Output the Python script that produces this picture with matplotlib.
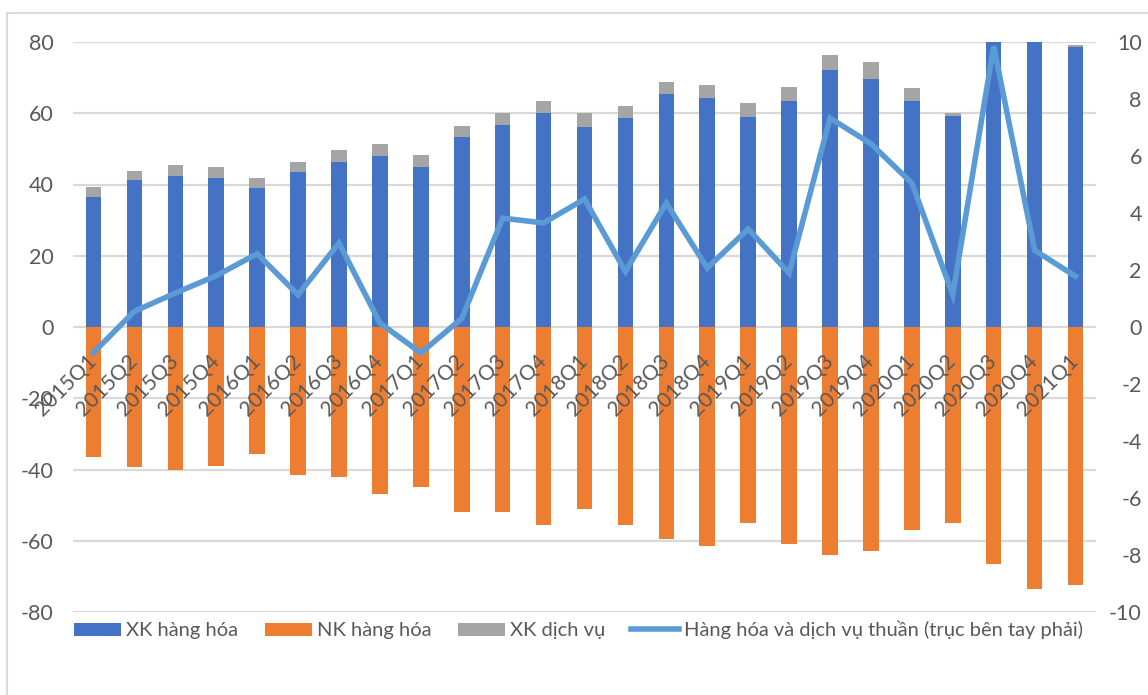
import matplotlib.pyplot as plt
from matplotlib.lines import Line2D
import numpy as np

plt.rcParams['font.family'] = ['Lato', 'Open Sans', 'DejaVu Sans']
plt.rcParams['axes.unicode_minus'] = False

quarters = ['2015Q1', '2015Q2', '2015Q3', '2015Q4', '2016Q1', '2016Q2', '2016Q3', '2016Q4',
            '2017Q1', '2017Q2', '2017Q3', '2017Q4', '2018Q1', '2018Q2', '2018Q3', '2018Q4',
            '2019Q1', '2019Q2', '2019Q3', '2019Q4', '2020Q1', '2020Q2', '2020Q3', '2020Q4',
            '2021Q1']
xk_hang_hoa = [36.4, 41.4, 42.5, 41.7, 38.9, 43.5, 46.4, 47.9, 45.0, 53.2, 56.8, 60.0,
               56.1, 58.6, 65.3, 64.3, 58.9, 63.5, 72.1, 69.6, 63.5, 59.3, 82.0, 83.0, 78.5]
xk_dich_vu = [2.8, 2.5, 2.9, 3.2, 2.8, 2.8, 3.2, 3.5, 3.2, 3.1, 3.2, 3.5,
              3.9, 3.4, 3.6, 3.5, 3.9, 3.9, 4.3, 4.7, 3.5, 0.9, 1.5, 1.8, 0.7]
nk_hang_hoa = [-36.4, -39.2, -40.0, -38.9, -35.7, -41.5, -42.1, -46.8, -44.9, -51.8, -51.8, -55.7,
               -51.0, -55.7, -59.6, -61.4, -54.9, -61.0, -63.9, -62.8, -57.1, -54.9, -66.4, -73.5, -72.4]
thuan = [-0.9, 0.55, 1.19, 1.8, 2.57, 1.13, 2.95, 0.14, -0.91, 0.3, 3.82, 3.65,
         4.49, 1.95, 4.35, 2.07, 3.44, 1.89, 7.33, 6.43, 5.05, 1.13, 9.85, 2.69, 1.78]

blue = '#4472c4'
orange = '#ed7d31'
gray = '#a5a5a5'
line_c = '#5b9bd5'
txt = '#595959'
grid_c = '#d9d9d9'

W, H = 1148, 695
fig = plt.figure(figsize=(W / 100, H / 100), dpi=100)
ax = fig.add_axes([73 / W, 1 - 612 / H, (1096 - 73) / W, (612 - 42) / H])
x = np.arange(len(quarters))
w = 0.38

ax.bar(x, xk_hang_hoa, w, color=blue, label='XK hàng hóa', zorder=2)
ax.bar(x, nk_hang_hoa, w, color=orange, label='NK hàng hóa', zorder=2)
ax.bar(x, xk_dich_vu, w, bottom=xk_hang_hoa, color=gray, label='XK dịch vụ', zorder=2)

ax.set_xlim(-0.5, len(quarters) - 0.5)
ax.set_ylim(-80, 80)
ax.set_yticks(range(-80, 81, 20))
ax.yaxis.grid(True, color=grid_c, linewidth=1.6, zorder=0)
ax.set_axisbelow(True)
ax.set_xticks([])
for s in ax.spines.values():
    s.set_visible(False)
ax.tick_params(axis='y', length=0, pad=14, labelsize=15.5, labelcolor=txt)

for i, q in enumerate(quarters):
    ax.text(i + 0.17, -6.6, q, rotation=45, ha='right', va='top',
            fontsize=15, color=txt, zorder=3)

ax2 = ax.twinx()
ax2.plot(x, thuan, color=line_c, linewidth=4, solid_joinstyle='miter', zorder=4)
ax2.set_ylim(-10, 10)
ax2.set_yticks(range(-10, 11, 2))
for s in ax2.spines.values():
    s.set_visible(False)
ax2.tick_params(axis='y', length=0, pad=33, labelsize=15.5, labelcolor=txt)
for lbl in ax2.get_yticklabels():
    lbl.set_ha('right')

handles, labels = ax.get_legend_handles_labels()
handles.append(Line2D([0], [0], color=line_c, linewidth=4))
labels.append('Hàng hóa và dịch vụ thuần (trục bên tay phải)')
leg = fig.legend(handles, labels, loc='center left', bbox_to_anchor=(74 / W, 1 - 630 / H),
                 ncol=4, frameon=False, fontsize=14.5, handlelength=2.35, handleheight=0.63,
                 handletextpad=0.25, columnspacing=1.3, borderaxespad=0, borderpad=0)
for t in leg.get_texts():
    t.set_color(txt)

# chart area border
fig.add_artist(Line2D([7 / W, 1], [1 - 13 / H, 1 - 13 / H], color=grid_c, linewidth=1.5))
fig.add_artist(Line2D([7 / W, 7 / W], [0, 1 - 13 / H], color=grid_c, linewidth=1.5))

fig.savefig('out.png', dpi=100)
